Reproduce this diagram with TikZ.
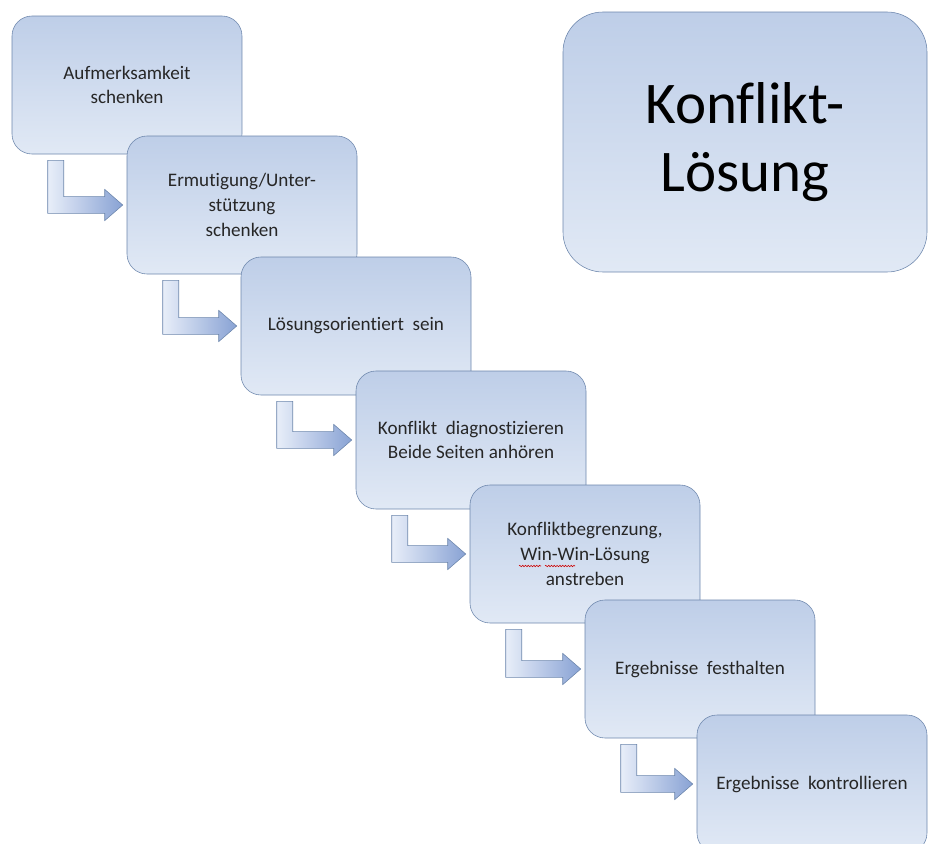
\documentclass[tikz,border=0pt]{standalone}
\usepackage{fontspec}
\setmainfont{Carlito}[Ligatures=NoCommon]
\usepackage{xcolor}
\usetikzlibrary{calc,decorations.pathmorphing}

\definecolor{boxtop}{RGB}{190,206,232}
\definecolor{boxbot}{RGB}{225,233,245}
\definecolor{boxline}{RGB}{108,134,172}
\definecolor{arrlight}{RGB}{232,238,249}
\definecolor{arrdark}{RGB}{136,162,212}

% bent block arrow from below box #1 to the left side of box #2
\newcommand{\bentarrow}[2]{%
  \path[bent] let \p1=(#1.south west), \p2=(#2.west) in
    (\x1+0.9cm,\y1-0.15cm) -- (\x1+1.3cm,\y1-0.15cm) -- (\x1+1.3cm,\y2+0.21cm)
    -- (\x2-0.55cm,\y2+0.21cm) -- (\x2-0.55cm,\y2+0.39cm) -- (\x2-0.1cm,\y2)
    -- (\x2-0.55cm,\y2-0.39cm) -- (\x2-0.55cm,\y2-0.21cm) -- (\x1+0.9cm,\y2-0.21cm) -- cycle;}

\begin{document}
\begin{tikzpicture}[
  stepbox/.style={rectangle, rounded corners=0.5cm, draw=boxline, thin,
             top color=boxtop, bottom color=boxbot, align=center,
             minimum width=5.75cm, minimum height=3.45cm, text=black!85,
             font=\fontsize{13.6}{17.5}\selectfont},
  titlebox/.style={rectangle, rounded corners=1cm, draw=boxline, thin,
             top color=boxtop, bottom color=boxbot, align=center,
             minimum width=9.1cm, minimum height=6.5cm,
             font=\fontsize{42}{48}\selectfont},
  bent/.style={draw=boxline, thin, left color=arrlight, right color=arrdark},
  squiggle/.style={red!80!black, line width=0.4pt,
             decorate, decoration={snake, amplitude=0.5pt, segment length=2pt}},
]
\useasboundingbox (0,0) rectangle (23.2,-21.1);

\node[titlebox] (title) at (18.625,-3.55) {Konflikt-\\Lösung};

\node[stepbox] (s1) at (3.175,-2.125)  {Aufmerksamkeit\\schenken};
\node[stepbox] (s2) at (6.05,-5.125)   {Ermutigung/Unter-\\stützung\\schenken};
\node[stepbox] (s3) at (8.9,-8.15)     {Lösungsorientiert\ \ sein};
\node[stepbox] (s4) at (11.775,-11.0)  {Konflikt\ \ diagnostizieren\\Beide Seiten anhören};
\node[stepbox] (s5) at (14.625,-13.85) {Konfliktbegrenzung,\\Win-Win-Lösung\\anstreben};
\node[stepbox] (s6) at (17.5,-16.725)  {Ergebnisse\ \ festhalten};
\node[stepbox] (s7) at (20.3,-19.6)    {Ergebnisse\ \ kontrollieren};

\bentarrow{s1}{s2}
\bentarrow{s2}{s3}
\bentarrow{s3}{s4}
\bentarrow{s4}{s5}
\bentarrow{s5}{s6}
\bentarrow{s6}{s7}

% spell-check marks under Win-Win
\coordinate (ww) at ($(s5.center)+(-1.65,-0.3)$);
\draw[squiggle] (ww) -- ++(0.55,0);
\draw[squiggle] ($(ww)+(0.65,0)$) -- ++(0.75,0);
\end{tikzpicture}
\end{document}
